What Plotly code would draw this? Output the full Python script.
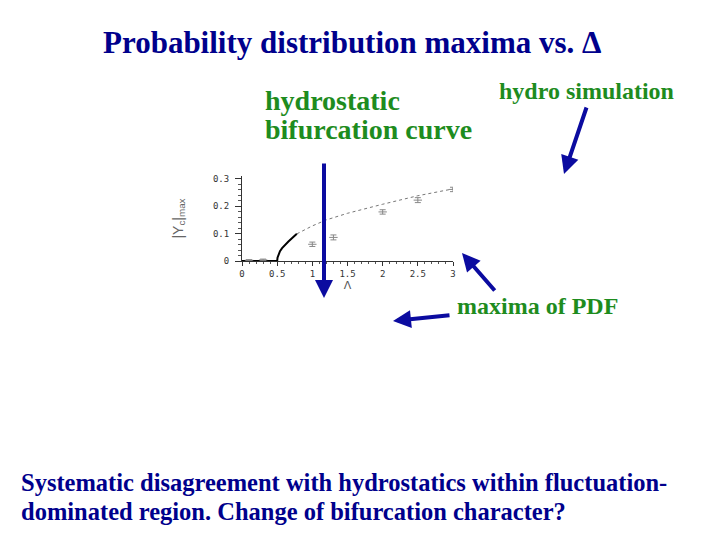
import plotly.graph_objects as go

# ---- data ----
curve_solid_x = [0.0, 0.5, 0.505, 0.52, 0.54, 0.57, 0.61, 0.66, 0.71, 0.78]
curve_solid_y = [0.0, 0.0, 0.012, 0.025, 0.036, 0.047, 0.059, 0.071, 0.083, 0.099]
curve_dot_x = [0.78, 1.0, 1.2, 1.5, 2.0, 2.5, 3.0]
curve_dot_y = [0.099, 0.128, 0.150, 0.174, 0.207, 0.238, 0.263]
sim_x = [0.1, 0.3, 1.0, 1.3, 2.0, 2.5, 3.0]
sim_y = [0.003, 0.004, 0.061, 0.086, 0.179, 0.222, 0.261]
sim_err = [0.002, 0.003, 0.008, 0.009, 0.008, 0.009, 0.008]
x_ticks = [0, 0.5, 1, 1.5, 2, 2.5, 3]
x_ticklabels = ["0", "0.5", "1", "1.5", "2", "2.5", "3"]
y_ticks = [0, 0.1, 0.2, 0.3]
y_ticklabels = ["0", "0.1", "0.2", "0.3"]

W, H = 720, 540
L, R, T, B = 242, 267, 176, 279
PW, PH = W - L - R, H - T - B


def px(xp):
    return (xp - L) / PW


def py(yp):
    return (H - B - yp) / PH


fig = go.Figure()
fig.add_trace(go.Scatter(x=curve_solid_x, y=curve_solid_y, mode="lines",
                         line=dict(color="black", width=2), hoverinfo="skip"))
fig.add_trace(go.Scatter(x=curve_dot_x, y=curve_dot_y, mode="lines",
                         line=dict(color="#777777", width=1, dash="dot"), hoverinfo="skip"))
fig.add_trace(go.Scatter(x=sim_x, y=sim_y, mode="markers",
                         marker=dict(symbol="line-ew", size=6, line=dict(color="#888888", width=1)),
                         error_y=dict(type="data", array=sim_err, color="#888888", thickness=1, width=3)))

fig.update_xaxes(range=[0, 3], tickvals=x_ticks, ticktext=x_ticklabels,
                 showgrid=False, zeroline=False, showline=True, linecolor="#333", linewidth=1,
                 ticks="outside", ticklen=4, tickcolor="#333",
                 minor=dict(dtick=0.1, ticks="outside", ticklen=2, tickcolor="#555"),
                 tickfont=dict(family="DejaVu Sans Mono, monospace", size=9, color="#333"),
                 title=dict(text="Λ", font=dict(family="DejaVu Sans", size=11, color="#555"), standoff=0))
fig.update_yaxes(range=[0, 0.31], tickvals=y_ticks, ticktext=y_ticklabels,
                 showgrid=False, zeroline=False, showline=True, linecolor="#333", linewidth=1,
                 ticks="outside", ticklen=6, tickcolor="#333", ticklabelstandoff=4,
                 minor=dict(dtick=0.02, ticks="outside", ticklen=3, tickcolor="#555"),
                 tickfont=dict(family="DejaVu Sans Mono, monospace", size=9, color="#333"),
                 title=dict(text="|Y<sub>c</sub>|<sub>max</sub>",
                            font=dict(family="Liberation Sans Narrow, Arial", size=14, color="#666"),
                            standoff=26))

blue = "#00008C"
green = "#1E8C1E"
arrow_c = "#0B0BA0"
serif = "Liberation Serif, Times New Roman, serif"


def text_ann(text, x, y, size, color, anchor="left"):
    return dict(text="<b>" + text + "</b>", x=px(x), y=py(y), xref="paper", yref="paper",
                showarrow=False, xanchor=anchor, yanchor="middle",
                font=dict(family=serif, size=size, color=color))


ann = [
    text_ann("Probability distribution maxima vs. Δ", 352, 43, 31, blue, "center"),
    text_ann("hydrostatic", 263, 100, 28, green),
    text_ann("bifurcation curve", 263, 129, 28, green),
    text_ann("hydro simulation", 497, 91, 24, green),
    text_ann("maxima of PDF", 455, 306, 24, green),
    text_ann("Systematic disagreement with hydrostatics within fluctuation-", 19, 482, 24.5, blue),
    text_ann("dominated region. Change of bifurcation character?", 19, 511, 24.5, blue),
]

# arrows: (tail px, tip px)
arrows = [((324, 162), (324, 298)),
          ((587, 106), (564, 174)),
          ((496, 292), (462, 253)),
          ((451, 315), (393, 321))]
for (tx, ty), (hx, hy) in arrows:
    ann.append(dict(text="", x=px(hx), y=py(hy), xref="paper", yref="paper",
                    ax=tx - hx, ay=ty - hy, axref="pixel", ayref="pixel",
                    showarrow=True, arrowhead=2, arrowsize=0.9, arrowwidth=4,
                    arrowcolor=arrow_c))

fig.update_layout(width=W, height=H, margin=dict(l=L, r=R, t=T, b=B, autoexpand=False),
                  plot_bgcolor="white", paper_bgcolor="white", showlegend=False,
                  annotations=ann)

fig.write_html("out.html", config={"displayModeBar": False},
               post_script="document.body.style.margin='0';")
